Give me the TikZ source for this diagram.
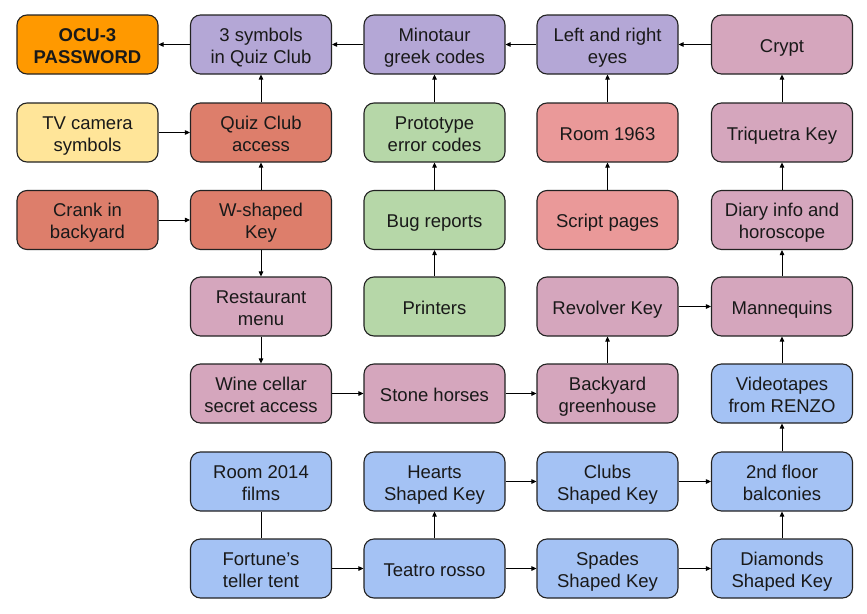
\documentclass[tikz,border=0pt]{standalone}
\usepackage{fontspec}
\setmainfont{Liberation Sans}
\usetikzlibrary{arrows.meta}
\definecolor{cOrange}{HTML}{FF9900}
\definecolor{cLav}{HTML}{B4A7D6}
\definecolor{cCoral}{HTML}{DD7E6B}
\definecolor{cLRed}{HTML}{EA9999}
\definecolor{cPink}{HTML}{D5A6BD}
\definecolor{cGreen}{HTML}{B6D7A8}
\definecolor{cYellow}{HTML}{FFE599}
\definecolor{cBlue}{HTML}{A4C2F4}
\definecolor{cLine}{HTML}{222222}
\newcommand{\TopS}{\rule{0pt}{19.4pt}}
\newcommand{\BotS}{\rule[-4pt]{0pt}{4pt}}
\tikzset{
  box/.style={draw=cLine, line width=1.1pt, rounded corners=10pt,
    minimum width=141pt, minimum height=59pt, inner sep=0pt,
    align=center, text=black!90,
    font=\fontsize{18.5pt}{21.7pt}\selectfont},
  conn/.style={draw=black, line width=0.9pt, -{Triangle[length=5pt,width=4.5pt]}},
  plain/.style={draw=black, line width=0.9pt},
}
\begin{document}
\begin{tikzpicture}[x=1pt,y=-1pt]
\useasboundingbox (0,0) rectangle (867,613);
% columns: 87.5, 261, 434.5, 607.5, 782 ; rows: 44.5,132.5,220,306.5,393.5,481.5,568.5
\node[box, fill=cOrange, font=\fontsize{18.5pt}{21.7pt}\selectfont\bfseries] (ocu) at (87.5,44.5) {\TopS OCU-3\\PASSWORD\BotS};
\node[box, fill=cLav] (sym) at (261,44.5) {\TopS 3 symbols\\in Quiz Club\BotS};
\node[box, fill=cLav] (mino) at (434.5,44.5) {\TopS Minotaur\\greek codes\BotS};
\node[box, fill=cLav] (eyes) at (607.5,44.5) {\TopS Left and right\\eyes\BotS};
\node[box, fill=cPink] (crypt) at (782,44.5) {\TopS Crypt\BotS};

\node[box, fill=cYellow] (tv) at (87.5,132.5) {\TopS TV camera\\symbols\BotS};
\node[box, fill=cCoral] (quiz) at (261,132.5) {\TopS Quiz Club\\access\BotS};
\node[box, fill=cGreen] (proto) at (434.5,132.5) {\TopS Prototype\\error codes\BotS};
\node[box, fill=cLRed] (r1963) at (607.5,132.5) {\TopS Room 1963\BotS};
\node[box, fill=cPink] (triq) at (782,132.5) {\TopS Triquetra Key\BotS};

\node[box, fill=cCoral] (crank) at (87.5,220) {\TopS Crank in\\backyard\BotS};
\node[box, fill=cCoral] (wkey) at (261,220) {\TopS W-shaped\\Key\BotS};
\node[box, fill=cGreen] (bug) at (434.5,220) {\TopS Bug reports\BotS};
\node[box, fill=cLRed] (script) at (607.5,220) {\TopS Script pages\BotS};
\node[box, fill=cPink] (diary) at (782,220) {\TopS Diary info and\\horoscope\BotS};

\node[box, fill=cPink] (rest) at (261,306.5) {\TopS Restaurant\\menu\BotS};
\node[box, fill=cGreen] (print) at (434.5,306.5) {\TopS Printers\BotS};
\node[box, fill=cPink] (revol) at (607.5,306.5) {\TopS Revolver Key\BotS};
\node[box, fill=cPink] (manne) at (782,306.5) {\TopS Mannequins\BotS};

\node[box, fill=cPink] (wine) at (261,393.5) {\TopS Wine cellar\\secret access\BotS};
\node[box, fill=cPink] (stone) at (434.5,393.5) {\TopS Stone horses\BotS};
\node[box, fill=cPink] (green) at (607.5,393.5) {\TopS Backyard\\greenhouse\BotS};
\node[box, fill=cBlue] (video) at (782,393.5) {\TopS Videotapes\\from RENZO\BotS};

\node[box, fill=cBlue] (r2014) at (261,481.5) {\TopS Room 2014\\films\BotS};
\node[box, fill=cBlue] (hearts) at (434.5,481.5) {\TopS Hearts\\Shaped Key\BotS};
\node[box, fill=cBlue] (clubs) at (607.5,481.5) {\TopS Clubs\\Shaped Key\BotS};
\node[box, fill=cBlue] (balc) at (782,481.5) {\TopS 2nd floor\\balconies\BotS};

\node[box, fill=cBlue] (fort) at (261,568.5) {\TopS Fortune’s\\teller tent\BotS};
\node[box, fill=cBlue] (teatro) at (434.5,568.5) {\TopS Teatro rosso\BotS};
\node[box, fill=cBlue] (spades) at (607.5,568.5) {\TopS Spades\\Shaped Key\BotS};
\node[box, fill=cBlue] (diam) at (782,568.5) {\TopS Diamonds\\Shaped Key\BotS};

% row 1 leftwards
\draw[conn] (sym) -- (ocu);
\draw[conn] (mino) -- (sym);
\draw[conn] (eyes) -- (mino);
\draw[conn] (crypt) -- (eyes);
% verticals up to row 1
\draw[conn] (quiz) -- (sym);
\draw[conn] (proto) -- (mino);
\draw[conn] (r1963) -- (eyes);
\draw[conn] (triq) -- (crypt);
% row 2/3
\draw[conn] (tv) -- (quiz);
\draw[conn] (crank) -- (wkey);
\draw[conn] (wkey) -- (quiz);
\draw[conn] (bug) -- (proto);
\draw[conn] (script) -- (r1963);
\draw[conn] (diary) -- (triq);
% row 4
\draw[conn] (wkey) -- (rest);
\draw[conn] (print) -- (bug);
\draw[conn] (revol) -- (manne);
\draw[conn] (manne) -- (diary);
% row 5
\draw[conn] (rest) -- (wine);
\draw[conn] (wine) -- (stone);
\draw[conn] (stone) -- (green);
\draw[conn] (green) -- (revol);
\draw[conn] (video) -- (manne);
% rows 6/7
\draw[plain] (r2014) -- (fort);
\draw[conn] (hearts) -- (clubs);
\draw[conn] (clubs) -- (balc);
\draw[conn] (balc) -- (video);
\draw[conn] (fort) -- (teatro);
\draw[conn] (teatro) -- (hearts);
\draw[conn] (teatro) -- (spades);
\draw[conn] (spades) -- (diam);
\draw[conn] (diam) -- (balc);
\end{tikzpicture}
\end{document}
